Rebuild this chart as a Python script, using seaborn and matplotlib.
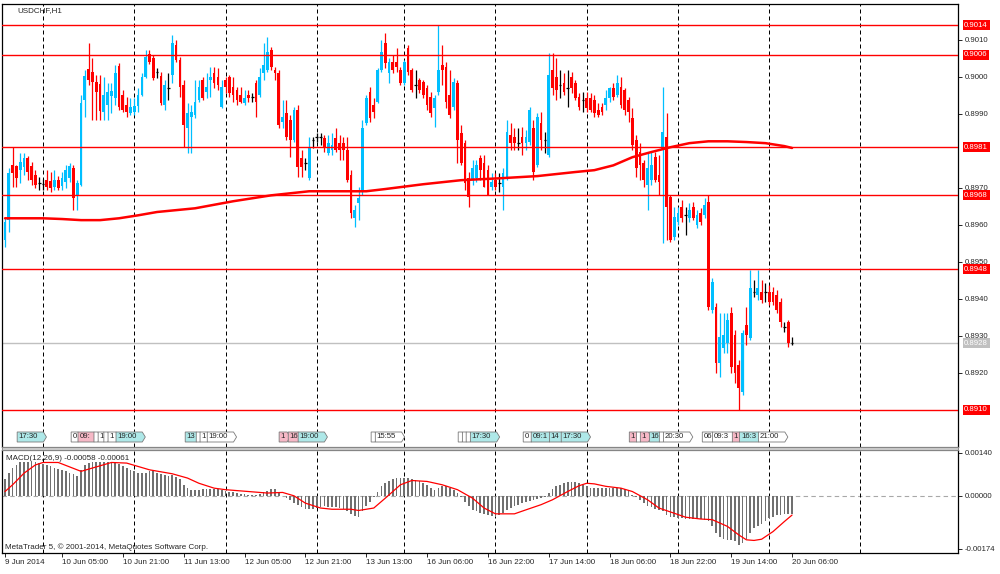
import numpy as np
import pandas as pd
import matplotlib
matplotlib.use("Agg")
import matplotlib.pyplot as plt
import matplotlib.transforms as mtransforms
from matplotlib.patches import Polygon, Rectangle
import seaborn as sns

# USDCHF H1, one candle per hour from 9 Jun 2014 14:00 to 20 Jun 2014 06:00
# prices in points (1e-5)
OPEN = [
    89559, 89613, 89761, 89759, 89748, 89756, 89780, 89759, 89734, 89713,
    89710, 89721, 89718, 89702, 89721, 89705, 89715, 89726, 89753, 89680,
    89707, 89937, 90021, 90012, 89985, 89980, 89904, 89923, 89948, 89942,
    90029, 89950, 89923, 89902, 89904, 89921, 89950, 89999, 90061, 90050,
    90012, 90002, 89923, 89969, 90004, 90085, 90045, 89977, 89861, 89891,
    89896, 89937, 89991, 89958, 89991, 90010, 89999, 89918, 89991, 89999,
    89972, 89964, 89950, 89929, 89950, 89945, 89983, 89950, 90010, 90018,
    90072, 90018, 90010, 89877, 89902, 89883, 89829, 89910, 89780, 89767,
    89726, 89829, 89837, 89837, 89834, 89794, 89802, 89834, 89821, 89821,
    89802, 89734, 89618, 89659, 89688, 89875, 89958, 89923, 89931, 90018,
    90091, 90010, 90039, 90039, 90018, 89983, 90077, 90018, 89977, 89991,
    89985, 89969, 89945, 89915, 89958, 90031, 90026, 89950, 89918, 89983,
    89848, 89821, 89726, 89721, 89726, 89780, 89767, 89748, 89702, 89721,
    89713, 89702, 89726, 89842, 89837, 89821, 89837, 89821, 89823, 89861,
    89761, 89875, 89829, 89788, 90018, 89999, 89977, 89983, 89969, 89999,
    89983, 89945, 89937, 89942, 89942, 89937, 89910, 89918, 89923, 89942,
    89969, 89950, 89972, 89964, 89937, 89888, 89829, 89796, 89767, 89707,
    89721, 89783, 89734, 89802, 89837, 89675, 89567, 89607, 89648, 89626,
    89618, 89648, 89599, 89632, 89626, 89661, 89370, 89378, 89226, 89267,
    89280, 89361, 89302, 89221, 89148, 89329, 89294, 89418, 89410, 89418,
    89418, 89418, 89418, 89410, 89391, 89324, 89337, 89280,
]
HIGH = [
    89618, 89753, 89810, 89761, 89794, 89794, 89786, 89769, 89748, 89729,
    89724, 89748, 89742, 89748, 89732, 89742, 89761, 89767, 89761, 89721,
    89950, 90018, 90091, 90050, 90004, 90004, 89999, 89983, 89983, 90031,
    90037, 89964, 89945, 89942, 89942, 89969, 90010, 90072, 90072, 90058,
    90023, 90012, 89991, 90010, 90112, 90099, 90053, 89991, 89929, 89923,
    89991, 89991, 89999, 90010, 90026, 90026, 90023, 89991, 89999, 90004,
    89999, 89972, 89972, 89964, 89964, 89956, 89991, 90023, 90091, 90107,
    90080, 90026, 90018, 89937, 89937, 89896, 89918, 89923, 89802, 89780,
    89837, 89837, 89848, 89848, 89842, 89842, 89848, 89861, 89842, 89837,
    89837, 89748, 89653, 89702, 89883, 89950, 89972, 89942, 90023, 90099,
    90118, 90050, 90058, 90077, 90026, 90045, 90085, 90023, 90018, 89996,
    89991, 89977, 89958, 89950, 90140, 90085, 90039, 90018, 89996, 89991,
    89869, 89829, 89742, 89775, 89775, 89788, 89788, 89761, 89740, 89740,
    89740, 89753, 89883, 89875, 89861, 89861, 89864, 89856, 89918, 89883,
    89902, 89904, 89850, 90064, 90064, 90050, 90018, 90010, 90018, 90012,
    89991, 89956, 89958, 89958, 89956, 89950, 89929, 89929, 89964, 89972,
    89983, 90004, 89999, 89969, 89945, 89915, 89842, 89821, 89775, 89794,
    89796, 89796, 89788, 89972, 89902, 89680, 89648, 89648, 89667, 89648,
    89659, 89661, 89640, 89645, 89672, 89680, 89456, 89388, 89361, 89361,
    89361, 89378, 89316, 89235, 89316, 89378, 89478, 89451, 89478, 89451,
    89443, 89437, 89432, 89424, 89402, 89337, 89343, 89297,
]
LOW = [
    89540, 89580, 89702, 89702, 89713, 89734, 89721, 89707, 89699, 89694,
    89694, 89694, 89688, 89694, 89694, 89694, 89699, 89715, 89640, 89640,
    89705, 89891, 89977, 89883, 89883, 89883, 89883, 89883, 89902, 89923,
    89910, 89904, 89891, 89896, 89896, 89904, 89948, 89996, 90034, 89991,
    89996, 89923, 89910, 89937, 89983, 90039, 89945, 89810, 89794, 89794,
    89888, 89931, 89937, 89942, 89945, 89969, 89964, 89915, 89956, 89945,
    89931, 89923, 89929, 89923, 89931, 89931, 89891, 89945, 89991, 90012,
    90018, 89991, 89861, 89861, 89829, 89783, 89823, 89729, 89729, 89748,
    89721, 89807, 89823, 89815, 89796, 89788, 89788, 89796, 89775, 89775,
    89715, 89618, 89594, 89613, 89680, 89869, 89877, 89888, 89929, 90012,
    90023, 89983, 90010, 90012, 89977, 89977, 90004, 89958, 89942, 89956,
    89942, 89910, 89891, 89864, 89950, 89977, 89915, 89888, 89910, 89767,
    89761, 89694, 89648, 89707, 89715, 89721, 89702, 89680, 89694, 89694,
    89688, 89640, 89721, 89802, 89802, 89802, 89788, 89802, 89815, 89721,
    89756, 89802, 89794, 89783, 89950, 89937, 89942, 89950, 89918, 89956,
    89937, 89910, 89904, 89904, 89904, 89891, 89891, 89896, 89910, 89931,
    89937, 89945, 89915, 89896, 89877, 89802, 89729, 89721, 89702, 89640,
    89707, 89715, 89680, 89551, 89559, 89553, 89559, 89599, 89607, 89572,
    89607, 89613, 89591, 89599, 89618, 89370, 89361, 89200, 89189, 89253,
    89253, 89200, 89172, 89100, 89140, 89275, 89289, 89405, 89397, 89388,
    89391, 89383, 89383, 89361, 89324, 89310, 89270, 89275,
]
CLOSE = [
    89607, 89740, 89740, 89726, 89769, 89780, 89742, 89721, 89707, 89713,
    89710, 89702, 89699, 89721, 89699, 89726, 89748, 89759, 89672, 89713,
    89929, 90002, 89991, 89985, 89958, 89907, 89950, 89958, 89961, 90010,
    89918, 89910, 89904, 89918, 89921, 89950, 89999, 90053, 90039, 89996,
    90012, 89929, 89977, 89969, 90091, 90045, 89972, 89869, 89902, 89904,
    89931, 89972, 89942, 89972, 89999, 89983, 89977, 89972, 89972, 89956,
    89950, 89937, 89931, 89942, 89942, 89945, 89931, 89999, 90031, 90066,
    90026, 90010, 89869, 89891, 89837, 89829, 89910, 89756, 89756, 89767,
    89807, 89829, 89837, 89837, 89807, 89821, 89815, 89802, 89802, 89802,
    89721, 89632, 89640, 89672, 89861, 89942, 89888, 89904, 90018, 90066,
    90037, 90039, 90018, 90026, 89983, 90039, 90012, 89964, 89977, 89964,
    89950, 89923, 89902, 89942, 90018, 90018, 89931, 89896, 89985, 89829,
    89767, 89713, 89675, 89753, 89761, 89748, 89702, 89680, 89715, 89702,
    89713, 89740, 89850, 89821, 89821, 89821, 89821, 89837, 89910, 89742,
    89891, 89829, 89829, 90004, 89969, 89964, 89977, 89958, 89969, 89969,
    89942, 89918, 89937, 89915, 89910, 89902, 89896, 89904, 89942, 89969,
    89945, 89983, 89923, 89910, 89904, 89815, 89753, 89761, 89721, 89753,
    89761, 89721, 89715, 89850, 89648, 89559, 89621, 89632, 89618, 89626,
    89640, 89618, 89626, 89607, 89653, 89378, 89445, 89226, 89297, 89302,
    89343, 89216, 89200, 89159, 89307, 89302, 89429, 89418, 89429, 89397,
    89418, 89391, 89391, 89370, 89337, 89324, 89280, 89280,
]

# moving average, read at a few bars
MA_BARS = [0, 10, 15, 20, 25, 30, 35, 40, 50, 60, 70, 80, 90, 95, 100, 110,
           120, 130, 140, 150, 155, 160, 165, 170, 175, 180, 185, 190, 195,
           200, 205, 207]
MA_VALUES = [89618, 89618, 89616, 89613, 89613, 89618, 89626, 89635, 89645,
             89664, 89680, 89691, 89691, 89691, 89697, 89710, 89721, 89726,
             89732, 89743, 89748, 89761, 89783, 89797, 89810, 89821, 89826,
             89826, 89824, 89821, 89813, 89808]

# MACD(12,26,9) main histogram, 1e-5 units
MACD_HIST = [
    54, 74, 90, 101, 109, 109, 109, 109, 109, 107,
    105, 101, 96, 90, 87, 83, 80, 76, 72, 65,
    85, 101, 107, 109, 109, 109, 109, 109, 109, 109,
    105, 98, 90, 83, 80, 74, 74, 76, 80, 80,
    76, 72, 69, 65, 69, 63, 54, 36, 25, 20,
    20, 20, 22, 22, 23, 23, 22, 20, 17, 14,
    11, 9, 7, 5, 3, 2, 4, 7, 12, 17,
    22, 22, 14, 0, -8, -15, -24, -29, -37, -44,
    -44, -44, -40, -37, -35, -37, -37, -37, -40, -44,
    -51, -59, -65, -68, -51, -35, -19, -4, 14, 31,
    41, 49, 54, 57, 57, 57, 57, 54, 52, 47,
    41, 36, 25, 20, 27, 31, 31, 25, 20, 9,
    -4, -19, -35, -46, -51, -57, -60, -62, -65, -68,
    -62, -57, -46, -40, -33, -29, -24, -19, -16, -13,
    -11, -8, -4, 9, 22, 31, 36, 41, 44, 46,
    44, 41, 36, 31, 27, 25, 25, 25, 25, 25,
    27, 25, 25, 22, 17, 3, -4, -13, -24, -33,
    -37, -44, -48, -51, -62, -68, -70, -73, -73, -75,
    -75, -75, -75, -75, -78, -84, -100, -122, -135, -142,
    -144, -144, -149, -160, -155, -142, -122, -106, -98, -92,
    -84, -73, -68, -62, -62, -59, -59, -58,
]
SIGNAL_BARS = [0, 2, 5, 8, 10, 14, 20, 28, 32, 38, 44, 48, 51, 55, 58, 64,
               69, 73, 76, 79, 83, 86, 91, 93, 97, 100, 104, 107, 111, 115,
               119, 123, 126, 129, 134, 137, 141, 144, 148, 151, 153, 155,
               158, 162, 165, 169, 172, 176, 179, 183, 186, 190, 193, 195,
               197, 199, 202, 205, 207]
SIGNAL_VALUES = [14, 36, 74, 101, 109, 109, 80, 109, 107, 85, 72, 58, 41, 25,
                 20, 14, 9, 11, 0, -24, -40, -44, -44, -48, -40, -8, 36, 50,
                 47, 36, 20, -8, -40, -59, -59, -46, -29, -13, 14, 33, 41, 39,
                 31, 25, 14, -13, -40, -57, -70, -76, -78, -100, -128, -144,
                 -146, -142, -117, -84, -63]

LEVELS = [0.9014, 0.9006, 0.8981, 0.8968, 0.8948, 0.8910]
LAST_PRICE = 0.8928
PRICE_TICKS = [0.8920, 0.8930, 0.8940, 0.8950, 0.8960, 0.8970,
               0.8990, 0.9000, 0.9010]
MACD_TICKS = [0.0014, 0.0, -0.00174]
MACD_TICK_LABELS = ["0.00140", "0.00000", "-0.00174"]

DAY_BARS = [10, 34, 58, 82, 105, 129, 153, 177, 201, 225]
XTICK_BARS = [0, 15, 31, 47, 63, 79, 95, 111, 127, 143, 159, 175, 191, 207]
XTICK_LABELS = ["9 Jun 2014", "10 Jun 05:00", "10 Jun 21:00", "11 Jun 13:00",
                "12 Jun 05:00", "12 Jun 21:00", "13 Jun 13:00", "16 Jun 06:00",
                "16 Jun 22:00", "17 Jun 14:00", "18 Jun 06:00", "18 Jun 22:00",
                "19 Jun 14:00", "20 Jun 06:00"]

# economic calendar events (bar position, visible label, importance colour)
EVENT_BARS = [3.2, 17.4, 19.2, 23.4, 24.5, 26.0, 27.1, 29.2, 47.4, 50.3, 51.3,
              53.2, 72.1, 74.5, 77.1, 96.3, 97.4, 119.2, 120.3, 121.3, 122.4,
              136.3, 138.4, 143.2, 146.3, 164.2, 166.1, 167.1, 169.5, 172.1,
              173.2, 183.4, 186.1, 191.3, 193.2, 198.2]
EVENT_TEXT = ["17:30", "0", "09:", "", "1", "", "1", "19:00", "13", "", "1",
              "19:00", "1", "16", "19:00", "", "15:55", "", "", "", "17:30",
              "0", "09:1", "14", "17:30", "1", "", "1", "16", "", "20:30",
              "06", "09:3", "1", "16:3", "21:00"]
EVENT_KIND = ["c", "w", "p", "w", "w", "w", "w", "c", "c", "w", "w",
              "w", "p", "p", "c", "w", "w", "w", "w", "w", "c",
              "w", "c", "c", "c", "p", "w", "p", "c", "w", "w",
              "w", "w", "p", "c", "w"]

UP_COLOR = "#00BFFF"
DOWN_COLOR = "#FF0000"
EVENT_COLORS = {"c": "#AEE8E8", "p": "#F6B8C6", "w": "#FFFFFF"}

sns.set_style("white")
plt.rcParams["font.family"] = ["Liberation Sans", "DejaVu Sans"]

W, H = 1000, 574
fig = plt.figure(figsize=(W / 100, H / 100), dpi=100)
ax = fig.add_axes([2 / W, 1 - 447 / H, 956 / W, 443 / H])
axm = fig.add_axes([2 / W, 1 - 553 / H, 956 / W, 103 / H], sharex=ax)

o = np.array(OPEN) / 1e5
h = np.array(HIGH) / 1e5
l = np.array(LOW) / 1e5
c = np.array(CLOSE) / 1e5
idx = np.arange(len(o))
up = c > o
down = c < o
flat = c == o

# candles
wick_colors = np.where(up, UP_COLOR, np.where(down, DOWN_COLOR, "black"))
ax.vlines(idx, l, h, colors=wick_colors, lw=0.9, zorder=3)
ax.bar(idx[up], (c - o)[up], bottom=o[up], width=0.72, color=UP_COLOR, lw=0, zorder=3)
ax.bar(idx[down], (o - c)[down], bottom=c[down], width=0.72, color=DOWN_COLOR, lw=0, zorder=3)
ax.hlines(o[flat], idx[flat] - 0.36, idx[flat] + 0.36, colors="black", lw=0.9, zorder=3)

# moving average
ma_df = pd.DataFrame({"bar": MA_BARS, "ma": np.array(MA_VALUES) / 1e5})
sns.lineplot(data=ma_df, x="bar", y="ma", ax=ax, color="#FF0000", lw=1.8, zorder=4)

# horizontal levels and current price
for lev in LEVELS:
    ax.axhline(lev, color="#FF0000", lw=1.0, zorder=5)
ax.axhline(LAST_PRICE, color="#C0C0C0", lw=1.0, zorder=2)

# day separators
for axis in (ax, axm):
    for b in DAY_BARS:
        axis.axvline(b, color="black", lw=0.72, ls=(0, (4, 3)), zorder=1)

ax.set_xlim(-0.79, 250.65)
ax.set_ylim(0.8900, 0.90197)
ax.set_xlabel("")
ax.set_ylabel("")

# right price axis
ax.yaxis.tick_right()
ax.set_yticks(PRICE_TICKS)
ax.set_yticklabels([f"{t:.4f}" for t in PRICE_TICKS])
ax.tick_params(axis="y", direction="out", length=3, width=0.7, pad=2,
               labelsize=5.6, right=True, left=False, labelright=True, labelleft=False)
ax.tick_params(axis="x", bottom=False, labelbottom=False)

ytrans = mtransforms.blended_transform_factory(ax.transAxes, ax.transData)
for lev in LEVELS:
    ax.text(1.0065, lev, f"{lev:.4f}", transform=ytrans, fontsize=5.6, color="white",
            va="center", ha="left", clip_on=False, zorder=10,
            bbox=dict(boxstyle="square,pad=0.2", fc="#FF0000", ec="none"))
ax.text(1.0065, LAST_PRICE, f"{LAST_PRICE:.4f}", transform=ytrans, fontsize=5.6,
        color="white", va="center", ha="left", clip_on=False, zorder=10,
        bbox=dict(boxstyle="square,pad=0.2", fc="#C0C0C0", ec="none"))

ax.text(15 / 956, (447 - 11) / 443, "USDCHF,H1", transform=ax.transAxes,
        fontsize=5.8, va="center", ha="left")

# event markers along the bottom of the price panel
etrans = mtransforms.blended_transform_factory(ax.transData, ax.transAxes)
yb, yt = (447 - 442) / 443, (447 - 432) / 443
ym = (yb + yt) / 2
for k, (b, txt, kind) in enumerate(zip(EVENT_BARS, EVENT_TEXT, EVENT_KIND)):
    natural = 1.2 * len(txt) + 0.9 if txt else 1.0
    if k + 1 < len(EVENT_BARS):
        x1 = b + min(natural, EVENT_BARS[k + 1] - b)
    else:
        x1 = b + natural
    poly = Polygon([(b, yb), (x1, yb), (x1 + 0.8, ym), (x1, yt), (b, yt)],
                   closed=True, transform=etrans, fc=EVENT_COLORS[kind],
                   ec="#7A7A7A", lw=0.6, zorder=20 + 2 * k)
    ax.add_patch(poly)
    if txt:
        t = ax.text(b + 0.35, ym, txt, transform=etrans, fontsize=5.6,
                    va="center", ha="left", zorder=21 + 2 * k)
        t.set_clip_path(poly)

# MACD panel
hist = np.array(MACD_HIST) / 1e5
axm.axhline(0, color="#A8A8A8", lw=0.8, ls=(0, (4, 3)), zorder=0.5)
axm.bar(idx, hist, width=0.45, color="#707070", lw=0, zorder=2)
sig_df = pd.DataFrame({"bar": SIGNAL_BARS, "signal": np.array(SIGNAL_VALUES) / 1e5})
sns.lineplot(data=sig_df, x="bar", y="signal", ax=axm, color="#FF0000", lw=0.9, zorder=3)
axm.set_ylim(-0.001871, 0.001498)
axm.set_xlim(-0.79, 250.65)
axm.set_xlabel("")
axm.set_ylabel("")
axm.yaxis.tick_right()
axm.set_yticks(MACD_TICKS)
axm.set_yticklabels(MACD_TICK_LABELS)
axm.tick_params(axis="y", direction="out", length=3, width=0.7, pad=2,
                labelsize=5.6, right=True, left=False, labelright=True, labelleft=False)
axm.set_xticks(XTICK_BARS)
axm.set_xticklabels(XTICK_LABELS)
axm.tick_params(axis="x", direction="out", length=3, width=0.7, pad=1.5,
                labelsize=5.8, bottom=True)
for lbl in axm.get_xticklabels():
    lbl.set_horizontalalignment("left")

axm.text(4 / 956, 0.922, "MACD(12,26,9) -0.00058 -0.00061", transform=axm.transAxes,
         fontsize=5.8, va="center", ha="left", zorder=6)
axm.text(3 / 956, 0.06, "MetaTrader 5, \u00a9 2001-2014, MetaQuotes Software Corp.",
         transform=axm.transAxes, fontsize=5.8, va="center", ha="left", zorder=6)

for axis in (ax, axm):
    for side in ("left", "right", "top", "bottom"):
        axis.spines[side].set_color("black")
        axis.spines[side].set_linewidth(0.9)
    axis.set_facecolor("white")
ax.spines["bottom"].set_color("#808080")
axm.spines["top"].set_color("#808080")

# panel divider
fig.add_artist(Rectangle((2 / W, 1 - 450 / H), 956 / W, 3 / H, transform=fig.transFigure,
                         fc="#C8C8C8", ec="#808080", lw=0.6))

fig.savefig("out.png", dpi=100)
